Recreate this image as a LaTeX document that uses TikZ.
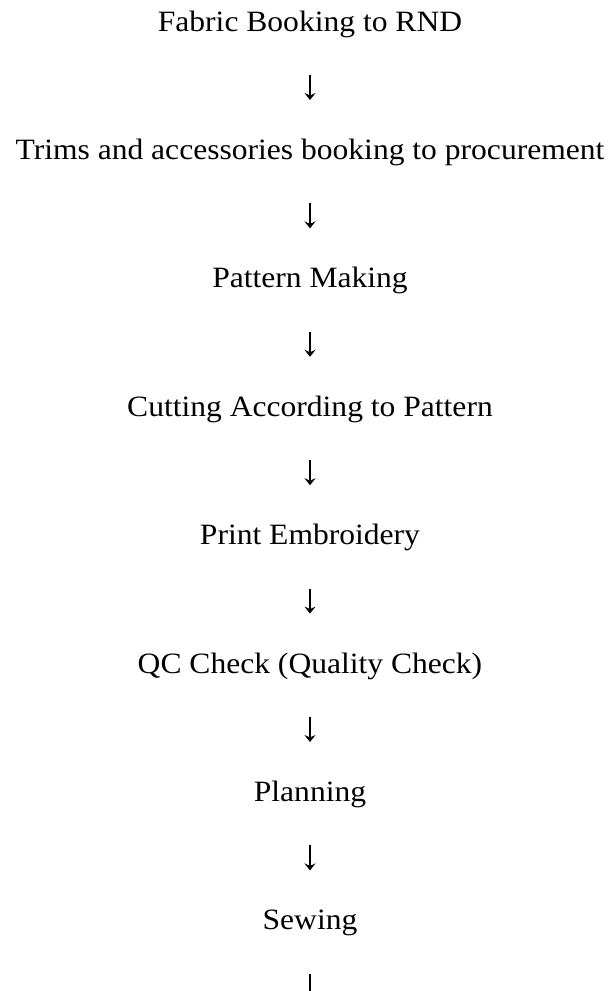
\documentclass[tikz,border=0pt]{standalone}
\usepackage{fontspec}
\setmainfont{Liberation Serif}[FakeStretch=1.07]
\usetikzlibrary{arrows.meta}
\begin{document}
\begin{tikzpicture}[x=1bp,y=-1bp,
  lbl/.style={inner sep=0pt, anchor=base, font=\fontsize{29.5bp}{35bp}\selectfont},
  arr/.style={-{Stealth[length=7bp,width=11bp,inset=2.5bp]}, line width=1.3bp,
              shorten <=44bp, shorten >=59.4bp}]
\useasboundingbox (0,0) rectangle (613,991);
\clip (0,0) rectangle (613,991);
\fill[white] (0,0) rectangle (613,991);
\node[lbl] (n1) at (310,31)    {Fabric Booking to RND};
\node[lbl] (n2) at (310,159.4) {Trims and accessories booking to procurement};
\node[lbl] (n3) at (310,287.8) {Pattern Making};
\node[lbl] (n4) at (310,416.2) {Cutting According to Pattern};
\node[lbl] (n5) at (310,544.6) {Print Embroidery};
\node[lbl] (n6) at (310,673)   {QC Check (Quality Check)};
\node[lbl] (n7) at (310,801.4) {Planning};
\node[lbl] (n8) at (310,929.8) {Sewing};
\coordinate (nend) at (310,1058.2);
\draw[arr] (n1.base) -- (n2.base);
\draw[arr] (n2.base) -- (n3.base);
\draw[arr] (n3.base) -- (n4.base);
\draw[arr] (n4.base) -- (n5.base);
\draw[arr] (n5.base) -- (n6.base);
\draw[arr] (n6.base) -- (n7.base);
\draw[arr] (n7.base) -- (n8.base);
\draw[arr] (n8.base) -- (nend);
\end{tikzpicture}
\end{document}
